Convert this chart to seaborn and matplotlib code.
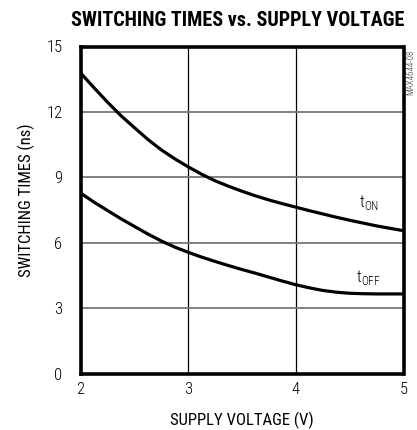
import pandas as pd
import matplotlib
matplotlib.use("Agg")
import matplotlib.pyplot as plt
import seaborn as sns

# valori (ns)
voltage = [2.0, 2.125, 2.25, 2.375, 2.5, 2.625, 2.75, 2.875, 3.0,
           3.125, 3.25, 3.375, 3.5, 3.625, 3.75, 3.875, 4.0,
           4.125, 4.25, 4.375, 4.5, 4.625, 4.75, 4.875, 5.0]
t_on = [13.79, 13.11, 12.45, 11.83, 11.28, 10.74, 10.26, 9.85, 9.48,
        9.14, 8.84, 8.59, 8.36, 8.15, 7.96, 7.79, 7.63,
        7.47, 7.32, 7.17, 7.03, 6.9, 6.77, 6.66, 6.55]
t_off = [8.28, 7.86, 7.48, 7.1, 6.75, 6.4, 6.08, 5.8, 5.56,
         5.34, 5.14, 4.95, 4.77, 4.6, 4.42, 4.24, 4.07,
         3.93, 3.81, 3.73, 3.68, 3.66, 3.65, 3.65, 3.65]
x_ticks = [2, 3, 4, 5]
y_ticks = [0, 3, 6, 9, 12, 15]

df = pd.DataFrame({
    "voltage": voltage * 2,
    "time": t_on + t_off,
    "series": ["tON"] * len(voltage) + ["tOFF"] * len(voltage),
})

sns.set_style("white")
plt.rcParams["font.family"] = ["Roboto Condensed", "DejaVu Sans"]
plt.rcParams["font.weight"] = "light"
for k in ["text.color", "axes.labelcolor", "xtick.color", "ytick.color"]:
    plt.rcParams[k] = "black"

fig = plt.figure(figsize=(4.17, 4.30), dpi=100)
ax = fig.add_axes([80.5 / 417, 1 - 373.5 / 430, 323 / 417, 327 / 430])

sns.lineplot(data=df, x="voltage", y="time", hue="series",
             palette={"tON": "black", "tOFF": "black"},
             linewidth=2.3, legend=False, ax=ax)

ax.set_xlim(2, 5)
ax.set_ylim(0, 15)
ax.set_xticks(x_ticks)
ax.set_yticks(y_ticks)
ax.tick_params(axis="both", length=0, labelsize=12)
ax.tick_params(axis="y", pad=13)
ax.tick_params(axis="x", pad=6)

# griglia: verticali nere sottili, orizzontali grigie
for v in x_ticks[1:-1]:
    ax.axvline(v, color="black", linewidth=0.9, zorder=0)
for h in y_ticks[1:-1]:
    ax.axhline(h, color="#777777", linewidth=1.3, zorder=0)

for s in ax.spines.values():
    s.set_visible(True)
    s.set_color("black")
    s.set_linewidth(2.6)

ax.set_xlabel("SUPPLY VOLTAGE (V)", fontsize=12, labelpad=11)
ax.set_ylabel("SWITCHING TIMES (ns)", fontsize=12)
ax.yaxis.set_label_coords(-0.14, 0.53)

ax.text(4.59, 7.84, r"t$_{\mathregular{ON}}$", fontsize=12, va="center")
ax.text(4.56, 4.39, r"t$_{\mathregular{OFF}}$", fontsize=12, va="center")

fig.text(238 / 417, 1 - 21 / 430, "SWITCHING TIMES vs. SUPPLY VOLTAGE",
         fontsize=14.5, fontweight="black", ha="center", va="center")
fig.text(411 / 417, 1 - 72 / 430, "MAX4644-08", fontsize=6.5,
         rotation=90, ha="center", va="center", color="#333333")

fig.savefig("out.png", dpi=100)
